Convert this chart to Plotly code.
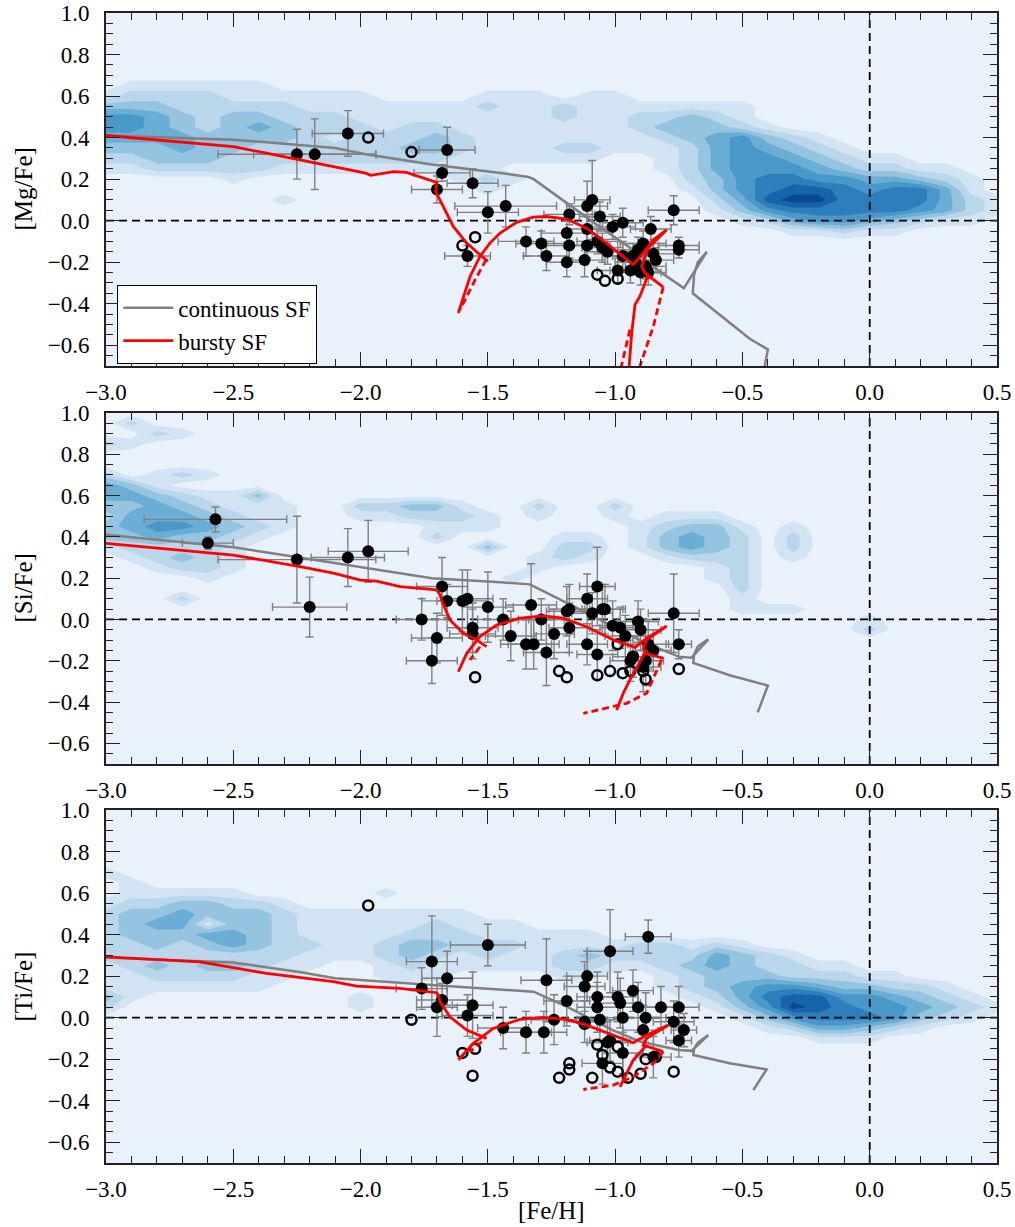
import plotly.graph_objects as go

# ---------------- grid of the background density (levels 0-8) -------------
FEH_GRID = [-3.0, -2.9, -2.8, -2.7, -2.6, -2.5, -2.4, -2.3, -2.2, -2.1, -2.0, -1.9,
            -1.8, -1.7, -1.6, -1.5, -1.4, -1.3, -1.2, -1.1, -1.0, -0.9, -0.8, -0.7,
            -0.6, -0.5, -0.4, -0.3, -0.2, -0.1, 0.0, 0.1, 0.2, 0.3, 0.4, 0.5]

MG_DENS_Y = [0.70, 0.65, 0.60, 0.55, 0.50, 0.45, 0.40, 0.35, 0.30, 0.25, 0.20, 0.15,
             0.10, 0.05, 0.00, -0.05, -0.10]
MG_DENS = [
    "00000 00000 00000 00000 00000 00000 00000 0",
    "01111 11000 00000 00000 00000 00000 00000 0",
    "12222 11111 10000 11101 10000 00000 00000 0",
    "33322 22211 11111 21121 11111 10000 00000 0",
    "55432 33222 11111 11121 12232 10000 00000 0",
    "55432 34322 21221 11111 12333 21000 00000 0",
    "44443 33321 22232 11111 11234 53210 00000 0",
    "33343 32222 22332 11122 11124 54321 00000 0",
    "22333 22222 22221 11111 00124 55432 11000 0",
    "11222 22111 11111 10000 00124 55543 22110 0",
    "00000 10000 00001 21000 00023 56655 44321 0",
    "00000 00000 00000 10000 00013 56776 56641 0",
    "00000 00100 00000 00000 00002 47886 66642 1",
    "00000 00000 00000 00000 00001 35666 66542 1",
    "00000 00000 00000 00000 00000 12455 43211 0",
    "00000 00000 00000 00000 00000 00112 11000 0",
    "00000 00000 00000 00000 00000 00000 00000 0",
]

SI_DENS_Y = [1.00, 0.95, 0.90, 0.85, 0.80, 0.75, 0.70, 0.65, 0.60, 0.55, 0.50, 0.45,
             0.40, 0.35, 0.30, 0.25, 0.20, 0.15, 0.10, 0.05, 0.00, -0.05, -0.10]
SI_DENS = [
    "00000 00000 00000 00000 00000 00000 00000 0",
    "02000 00000 00000 00000 00000 00000 00000 0",
    "00210 00000 00000 00000 00000 00000 00000 0",
    "21000 00000 00000 00000 00000 00000 00000 0",
    "00000 00000 00000 00000 00000 00000 00000 0",
    "00000 00000 00000 00000 00000 00000 00000 0",
    "20121 00000 00000 00000 00000 00000 00000 0",
    "43100 00000 00000 00000 00000 00000 00000 0",
    "44321 13000 00000 00000 00000 00000 00000 0",
    "33432 11100 22331 00200 20000 00000 00000 0",
    "24443 21100 11222 10100 10111 00000 00000 0",
    "34554 32100 00011 10000 01233 10100 00000 0",
    "33433 21000 00020 00011 01343 20200 00000 0",
    "12222 10000 00000 30022 01343 20200 00000 0",
    "01232 10000 00000 00121 00122 20100 00000 0",
    "00122 10000 00000 00100 00001 20000 00000 0",
    "00001 00000 00000 01000 00001 20000 00000 0",
    "00000 00000 00000 00000 00000 20000 00000 0",
    "00020 00000 00000 00000 00000 10000 00000 0",
    "00000 00000 00000 00000 00000 11100 00000 0",
    "00000 00000 00000 00000 00000 00000 10000 0",
    "00000 00000 00000 00000 00000 00000 20000 0",
    "00000 00000 00000 00000 00000 00000 00000 0",
]

TI_DENS_Y = [0.75, 0.70, 0.65, 0.60, 0.55, 0.50, 0.45, 0.40, 0.35, 0.30, 0.25, 0.20,
             0.15, 0.10, 0.05, 0.00, -0.05, -0.10, -0.15]
TI_DENS = [
    "00000 00000 00000 00000 00000 00000 00000 0",
    "10000 00000 00000 00000 00000 00000 00000 0",
    "01000 00000 00000 00000 00000 00000 00000 0",
    "01111 10000 01000 00000 00000 00000 00000 0",
    "12233 22100 00000 00000 00000 00000 00000 0",
    "23343 33211 11111 00000 00000 00000 00000 0",
    "23441 33211 11121 11000 00000 00000 00000 0",
    "23334 43211 11222 11111 00000 00000 00000 0",
    "22323 43221 12332 22111 12212 10000 00000 0",
    "22222 22211 12321 21123 22224 32100 00000 0",
    "12323 32110 01211 11122 11234 32211 00000 0",
    "11222 21100 01110 00011 00123 33222 11000 0",
    "11111 11000 00000 00000 00123 45543 32210 0",
    "31000 00000 10000 00000 00012 46775 54321 0",
    "20000 00000 10000 00000 00001 35876 55432 1",
    "00000 00000 00000 00000 00000 13566 65321 0",
    "00000 00000 00000 00000 00000 01244 32100 0",
    "00000 00000 00000 00000 00000 00011 10000 0",
    "00000 00000 00000 00000 00000 00000 00000 0",
]

DENS_COLORS = ["#e9f1fa", "#d2e3f3", "#b9d6eb", "#94c4df", "#6aaed6",
               "#4a98c9", "#2e7ebc", "#1764ab", "#0a4a90"]

# ---------------- continuous SF model (grey) ----------------
MG_CONT_X = [-3.0, -2.5, -2.1, -1.98, -1.72, -1.45, -1.34, -1.32, -1.06, -0.93, -0.82,
             -0.73, -0.64, -0.675, -0.69, -0.695, -0.47, -0.40, -0.42]
MG_CONT_Y = [0.41, 0.39, 0.35, 0.32, 0.27, 0.23, 0.21, 0.20, -0.03, -0.14, -0.25,
             -0.325, -0.15, -0.20, -0.26, -0.35, -0.57, -0.62, -0.75]
SI_CONT_X = [-3.0, -2.5, -2.24, -1.98, -1.72, -1.45, -1.37, -1.335, -1.19, -1.01, -0.88,
             -0.75, -0.70, -0.634, -0.675, -0.69, -0.693, -0.55, -0.40, -0.44]
SI_CONT_Y = [0.41, 0.35, 0.30, 0.25, 0.20, 0.18, 0.175, 0.17, 0.08, -0.035, -0.115,
             -0.18, -0.185, -0.096, -0.13, -0.17, -0.21, -0.27, -0.32, -0.45]
TI_CONT_X = [-3.0, -2.5, -2.24, -2.1, -1.72, -1.45, -1.32, -1.19, -1.01, -0.90, -0.75,
             -0.70, -0.634, -0.675, -0.69, -0.693, -0.55, -0.405, -0.457]
TI_CONT_Y = [0.29, 0.265, 0.22, 0.19, 0.157, 0.133, 0.125, 0.053, -0.06, -0.116, -0.156,
             -0.16, -0.084, -0.12, -0.15, -0.18, -0.22, -0.249, -0.349]

# ---------------- bursty SF model (red): solid and dashed pieces ----------------
MG_BURST_SOLID = [
    ([-3.0, -2.5, -2.37, -2.24, -2.11, -1.98, -1.96, -1.90, -1.87, -1.82, -1.77, -1.70,
      -1.705, -1.69, -1.675, -1.636, -1.583, -1.531, -1.50],
     [0.41, 0.357, 0.325, 0.293, 0.261, 0.229, 0.218, 0.232, 0.236, 0.232, 0.213, 0.184,
      0.14, 0.10, 0.068, -0.028, -0.108, -0.164, -0.196]),
    ([-1.616, -1.596, -1.570, -1.531, -1.492, -1.452, -1.387, -1.322, -1.269, -1.191, -1.112,
      -1.034, -0.981, -0.929, -0.890, -0.850, -0.798],
     [-0.445, -0.365, -0.269, -0.172, -0.108, -0.060, -0.008, 0.017, 0.020, 0.008, -0.036,
      -0.108, -0.159, -0.212, -0.156, -0.092, -0.044]),
    ([-0.798, -0.870, -0.896, -0.883, -0.811], [-0.044, -0.132, -0.220, -0.252, -0.320]),
    ([-0.870, -0.903, -0.922, -0.935, -0.948], [-0.260, -0.365, -0.405, -0.542, -0.75]),
]
MG_BURST_DASH = [
    ([-1.507, -1.55, -1.609], [-0.188, -0.285, -0.429]),
    ([-0.811, -0.850, -0.903], [-0.320, -0.509, -0.702]),
    ([-0.942, -0.985], [-0.525, -0.75]),
]
SI_BURST_SOLID = [
    ([-3.0, -2.5, -2.238, -2.107, -2.0, -1.937, -1.845, -1.701, -1.688, -1.682, -1.649,
      -1.596, -1.544, -1.505],
     [0.369, 0.312, 0.256, 0.224, 0.191, 0.186, 0.159, 0.143, 0.12, 0.094, -0.002,
      -0.067, -0.099, -0.132]),
    ([-1.616, -1.583, -1.531, -1.466, -1.374, -1.282, -1.204, -1.112, -1.007, -0.922,
      -0.876, -0.798],
     [-0.253, -0.164, -0.083, -0.027, 0.006, 0.017, 0.006, -0.035, -0.099, -0.135,
      -0.091, -0.032]),
    ([-0.798, -0.876, -0.889, -0.876, -0.811], [-0.032, -0.099, -0.140, -0.164, -0.188]),
    ([-0.876, -0.929, -0.968, -0.994], [-0.148, -0.261, -0.357, -0.438]),
]
SI_BURST_DASH = [
    ([-1.531, -1.570], [-0.132, -0.196]),
    ([-0.818, -0.853, -0.876, -0.955, -1.125], [-0.196, -0.290, -0.357, -0.406, -0.455]),
]
TI_BURST_SOLID = [
    ([-3.0, -2.631, -2.369, -2.107, -2.015, -1.845, -1.701, -1.695, -1.688, -1.649,
      -1.583, -1.505],
     [0.293, 0.269, 0.213, 0.173, 0.152, 0.141, 0.120, 0.11, 0.077, 0.004, -0.060, -0.100]),
    ([-1.616, -1.557, -1.479, -1.374, -1.282, -1.191, -1.112, -1.007, -0.929, -0.876, -0.791],
     [-0.204, -0.124, -0.052, -0.008, 0.001, -0.008, -0.036, -0.084, -0.121, -0.084, -0.036]),
    ([-0.791, -0.876, -0.889, -0.811], [-0.036, -0.100, -0.132, -0.164]),
    ([-0.876, -0.929, -0.981], [-0.132, -0.204, -0.333]),
]
TI_BURST_DASH = [
    ([-1.524, -1.570], [-0.116, -0.164]),
    ([-0.811, -0.850, -0.929, -1.007, -1.125], [-0.164, -0.220, -0.285, -0.325, -0.346]),
]

# ---------------- observed stars ----------------
MG_FEH = [-2.25, -2.18, -2.05, -1.66, -1.68, -1.70, -1.56, -1.50, -1.58, -1.43, -1.35, -1.29,
          -1.27, -1.19, -1.18, -1.19, -1.18, -1.12, -1.11, -1.11, -1.11, -1.09, -1.06, -1.07,
          -1.05, -1.03, -1.01, -0.97, -0.99, -0.97, -0.94, -0.93, -0.90, -0.89, -0.86, -0.85,
          -0.84, -0.88, -0.77, -0.75, -0.75, -0.92, -0.87, -0.91]
MG_VAL = [0.32, 0.32, 0.42, 0.34, 0.23, 0.15, 0.18, 0.04, -0.17, 0.07, -0.10, -0.11,
          -0.17, -0.20, 0.03, -0.06, -0.12, -0.19, -0.12, -0.04, 0.07, 0.10, 0.02, -0.10,
          -0.13, -0.15, -0.03, -0.01, -0.24, -0.17, -0.24, -0.17, -0.25, -0.11, -0.04, -0.16,
          -0.19, -0.22, 0.05, -0.12, -0.14, -0.20, -0.25, -0.14]
MG_XERR = [0.31, 0.24, 0.14, 0.11, 0.11, 0.10, 0.10, 0.12, 0.09, 0.20, 0.11, 0.10,
           0.09, 0.08, 0.10, 0.10, 0.09, 0.08, 0.09, 0.08, 0.08, 0.07, 0.08, 0.08,
           0.08, 0.09, 0.09, 0.08, 0.08, 0.08, 0.08, 0.08, 0.08, 0.09, 0.08, 0.08,
           0.07, 0.08, 0.10, 0.08, 0.08, 0.08, 0.07, 0.08]
MG_YERR = [0.12, 0.17, 0.11, 0.11, 0.04, 0.065, 0.07, 0.10, 0.05, 0.10, 0.07, 0.06,
           0.07, 0.07, 0.05, 0.06, 0.06, 0.08, 0.06, 0.06, 0.12, 0.19, 0.07, 0.06,
           0.07, 0.06, 0.06, 0.07, 0.06, 0.07, 0.06, 0.06, 0.06, 0.06, 0.06, 0.07,
           0.06, 0.06, 0.07, 0.04, 0.04, 0.06, 0.06, 0.06]
MG_OPEN_FEH = [-1.97, -1.80, -1.60, -1.55, -1.07, -1.04, -0.99]
MG_OPEN_VAL = [0.40, 0.33, -0.12, -0.08, -0.26, -0.29, -0.28]

SI_FEH = [-2.57, -2.60, -2.25, -2.20, -2.05, -1.97, -1.68, -1.66, -1.76, -1.70, -1.72, -1.60,
          -1.58, -1.56, -1.56, -1.50, -1.44, -1.41, -1.33, -1.35, -1.32, -1.29, -1.27, -1.24,
          -1.19, -1.18, -1.18, -1.11, -1.07, -1.09, -1.11, -1.07, -1.05, -1.04, -1.01, -0.98,
          -0.96, -0.91, -0.90, -0.87, -0.85, -0.88, -0.93, -0.94, -0.89, -0.77, -0.75]
SI_VAL = [0.485, 0.37, 0.29, 0.06, 0.30, 0.33, 0.16, 0.09, 0.00, -0.09, -0.20, 0.09,
          0.10, -0.04, -0.07, 0.06, 0.00, -0.08, 0.07, -0.12, -0.12, 0.00, -0.16, -0.07,
          0.04, 0.05, -0.04, 0.10, 0.16, 0.03, -0.12, -0.17, 0.05, 0.05, -0.03, -0.04,
          -0.08, -0.01, -0.05, -0.12, -0.15, -0.20, -0.18, -0.20, -0.23, 0.03, -0.12]
SI_XERR = [0.28, 0.10, 0.31, 0.146, 0.144, 0.157, 0.10, 0.10, 0.10, 0.10, 0.10, 0.10,
           0.10, 0.10, 0.09, 0.10, 0.10, 0.10, 0.10, 0.10, 0.10, 0.09, 0.09, 0.08,
           0.08, 0.08, 0.08, 0.08, 0.07, 0.08, 0.08, 0.08, 0.08, 0.08, 0.08, 0.08,
           0.08, 0.08, 0.08, 0.08, 0.07, 0.07, 0.08, 0.08, 0.07, 0.10, 0.05]
SI_YERR = [0.06, 0.03, 0.21, 0.145, 0.14, 0.15, 0.14, 0.08, 0.10, 0.12, 0.11, 0.15,
           0.14, 0.12, 0.12, 0.17, 0.10, 0.12, 0.20, 0.12, 0.12, 0.10, 0.16, 0.12,
           0.12, 0.12, 0.12, 0.12, 0.19, 0.10, 0.10, 0.12, 0.12, 0.12, 0.12, 0.10,
           0.10, 0.10, 0.10, 0.12, 0.10, 0.12, 0.10, 0.10, 0.12, 0.19, 0.07]
SI_OPEN_FEH = [-1.55, -1.22, -1.19, -1.07, -1.02, -0.97, -0.94, -0.89, -0.88, -0.99, -0.93, -0.75]
SI_OPEN_VAL = [-0.28, -0.25, -0.28, -0.27, -0.25, -0.26, -0.25, -0.25, -0.29, -0.12, -0.18, -0.24]

TI_FEH = [-1.72, -1.76, -1.66, -1.68, -1.70, -1.58, -1.56, -1.50, -1.44, -1.35, -1.28, -1.27,
          -1.24, -1.19, -1.12, -1.11, -1.07, -1.07, -1.02, -0.99, -0.98, -0.97, -0.93, -0.91,
          -0.88, -0.89, -0.87, -0.82, -0.77, -0.75, -0.73, -0.75, -0.85, -0.97, -1.03, -1.02,
          -1.05, -1.06, -1.12]
TI_VAL = [0.27, 0.14, 0.19, 0.085, 0.05, 0.01, 0.06, 0.35, -0.05, -0.07, -0.07, 0.18,
          -0.01, 0.08, 0.15, 0.20, 0.10, 0.05, 0.32, 0.10, 0.07, 0.00, 0.13, 0.05,
          0.00, -0.06, 0.39, 0.05, -0.02, 0.05, -0.06, -0.11, -0.19, -0.17, -0.12, -0.11,
          -0.22, -0.01, -0.02]
TI_XERR = [0.10, 0.10, 0.10, 0.10, 0.08, 0.10, 0.08, 0.147, 0.10, 0.10, 0.09, 0.10,
           0.09, 0.09, 0.08, 0.08, 0.08, 0.08, 0.09, 0.08, 0.08, 0.08, 0.08, 0.08,
           0.08, 0.08, 0.09, 0.08, 0.08, 0.08, 0.05, 0.05, 0.07, 0.08, 0.08, 0.08,
           0.08, 0.08, 0.08]
TI_YERR = [0.22, 0.10, 0.13, 0.08, 0.14, 0.10, 0.16, 0.10, 0.10, 0.10, 0.10, 0.20,
           0.12, 0.12, 0.12, 0.12, 0.12, 0.12, 0.20, 0.12, 0.12, 0.10, 0.10, 0.12,
           0.12, 0.12, 0.08, 0.10, 0.10, 0.10, 0.08, 0.08, 0.10, 0.10, 0.10, 0.10,
           0.10, 0.10, 0.10]
TI_OPEN_FEH = [-1.97, -1.80, -1.60, -1.55, -1.56, -1.22, -1.18, -1.18, -1.09, -1.07, -1.05,
               -1.02, -0.99, -0.99, -0.95, -0.90, -0.88, -0.84, -0.77, -1.12]
TI_OPEN_VAL = [0.54, -0.01, -0.17, -0.15, -0.28, -0.29, -0.25, -0.22, -0.29, -0.13, -0.18,
               -0.24, -0.14, -0.26, -0.29, -0.27, -0.20, -0.19, -0.26, -0.03]

Y_TITLES = ["[Mg/Fe]", "[Si/Fe]", "[Ti/Fe]"]
X_TITLE = "[Fe/H]"
LEGEND_NAMES = ["continuous SF", "bursty SF"]

# ---------------- figure ----------------
FONT = "Liberation Serif"
GREY = "#808080"
RED = "#ff0000"

fig = go.Figure()

panels = [
    (MG_DENS_Y, MG_DENS, MG_CONT_X, MG_CONT_Y, MG_BURST_SOLID, MG_BURST_DASH,
     MG_FEH, MG_VAL, MG_XERR, MG_YERR, MG_OPEN_FEH, MG_OPEN_VAL),
    (SI_DENS_Y, SI_DENS, SI_CONT_X, SI_CONT_Y, SI_BURST_SOLID, SI_BURST_DASH,
     SI_FEH, SI_VAL, SI_XERR, SI_YERR, SI_OPEN_FEH, SI_OPEN_VAL),
    (TI_DENS_Y, TI_DENS, TI_CONT_X, TI_CONT_Y, TI_BURST_SOLID, TI_BURST_DASH,
     TI_FEH, TI_VAL, TI_XERR, TI_YERR, TI_OPEN_FEH, TI_OPEN_VAL),
]

colorscale = [[k / 8.0, c] for k, c in enumerate(DENS_COLORS)]

for i, (dy, drows, cx, cy, bsol, bdash, fx, fy, fxe, fye, ox, oy) in enumerate(panels):
    xa = "x" if i == 0 else "x%d" % (i + 1)
    ya = "y" if i == 0 else "y%d" % (i + 1)
    z = [[int(ch) for ch in r.replace(" ", "")] for r in drows]
    fig.add_trace(go.Contour(
        x=FEH_GRID, y=dy[::-1], z=z[::-1], xaxis=xa, yaxis=ya,
        contours=dict(start=0.5, end=7.5, size=1, coloring="fill", showlines=False),
        colorscale=colorscale, showscale=False, line=dict(width=0, smoothing=0),
        hoverinfo="skip", showlegend=False))
    # reference dashed lines
    fig.add_trace(go.Scatter(x=[-3.0, 0.5], y=[0, 0], mode="lines", xaxis=xa, yaxis=ya,
                             line=dict(color="black", width=1.8, dash="8px,5px"),
                             showlegend=False, hoverinfo="skip"))
    fig.add_trace(go.Scatter(x=[0, 0], y=[-0.7, 1.0], mode="lines", xaxis=xa, yaxis=ya,
                             line=dict(color="black", width=1.8, dash="8px,5px"),
                             showlegend=False, hoverinfo="skip"))
    # continuous SF
    fig.add_trace(go.Scatter(x=cx, y=cy, mode="lines", xaxis=xa, yaxis=ya,
                             line=dict(color=GREY, width=2.5),
                             name=LEGEND_NAMES[0], showlegend=(i == 0), legendrank=1))
    # stars with errors
    fig.add_trace(go.Scatter(
        x=fx, y=fy, mode="markers", xaxis=xa, yaxis=ya,
        marker=dict(color="black", size=12, line=dict(width=0)),
        error_x=dict(type="data", array=fxe, color=GREY, thickness=1.4, width=4),
        error_y=dict(type="data", array=fye, color=GREY, thickness=1.4, width=4),
        showlegend=False, hoverinfo="skip"))
    fig.add_trace(go.Scatter(
        x=ox, y=oy, mode="markers", xaxis=xa, yaxis=ya,
        marker=dict(symbol="circle-open", color="black", size=10, line=dict(width=2.5)),
        showlegend=False, hoverinfo="skip"))
    # bursty SF
    for j, (bx, by) in enumerate(bsol):
        fig.add_trace(go.Scatter(x=bx, y=by, mode="lines", xaxis=xa, yaxis=ya,
                                 line=dict(color=RED, width=2.8),
                                 name=LEGEND_NAMES[1], showlegend=(i == 0 and j == 0),
                                 legendrank=2, hoverinfo="skip"))
    for bx, by in bdash:
        fig.add_trace(go.Scatter(x=bx, y=by, mode="lines", xaxis=xa, yaxis=ya,
                                 line=dict(color=RED, width=2.8, dash="7px,4px"),
                                 showlegend=False, hoverinfo="skip"))

# plot area: px x 106..997 ; panels y 13-366, 413-764, 810-1163
H, W = 1227, 1015
ml, mr, mt, mb = 106, 18, 13, 64
ph = H - mt - mb
def dom(top, bottom):
    return [(H - mb - bottom) / ph, (H - mb - top) / ph]

domains = [dom(13, 366), dom(413, 764), dom(810, 1163)]

tickfont = dict(family=FONT, size=23, color="black")
layout_axes = {}
for i in range(3):
    xk = "xaxis" if i == 0 else "xaxis%d" % (i + 1)
    yk = "yaxis" if i == 0 else "yaxis%d" % (i + 1)
    ya = "y" if i == 0 else "y%d" % (i + 1)
    xa = "x" if i == 0 else "x%d" % (i + 1)
    layout_axes[xk] = dict(
        domain=[0, 1], anchor=ya, range=[-3.0, 0.5], tick0=-3.0, dtick=0.5,
        tickformat=".1f", ticks="inside", ticklen=14, tickwidth=1.4, tickcolor="#222",
        minor=dict(ticks="inside", dtick=0.1, ticklen=7, tickwidth=1.2, tickcolor="#222"),
        mirror="ticks", showline=True, linecolor="#222", linewidth=1.6,
        showgrid=False, zeroline=False, tickfont=tickfont, ticklabelstandoff=5)
    layout_axes[yk] = dict(
        domain=domains[i], anchor=xa, range=[-0.7, 1.0], tick0=0.0, dtick=0.2,
        tickformat=".1f", ticks="inside", ticklen=14, tickwidth=1.4, tickcolor="#222",
        minor=dict(ticks="inside", dtick=0.05, ticklen=7, tickwidth=1.2, tickcolor="#222"),
        mirror="ticks", showline=True, linecolor="#222", linewidth=1.6,
        showgrid=False, zeroline=False, tickfont=tickfont, ticklabelstandoff=10)

annotations = []
for i, t in enumerate(Y_TITLES):
    yc = (domains[i][0] + domains[i][1]) / 2
    annotations.append(dict(text=t, x=(23 - ml) / (W - ml - mr), y=yc, xref="paper", yref="paper",
                            textangle=-90, showarrow=False, xanchor="center", yanchor="middle",
                            font=dict(family=FONT, size=25, color="black")))
annotations.append(dict(text=X_TITLE, x=(551 - ml) / (W - ml - mr), y=(H - mb - 1210) / ph,
                        xref="paper", yref="paper", showarrow=False, xanchor="center",
                        yanchor="middle", font=dict(family=FONT, size=25, color="black")))

fig.update_layout(
    width=W, height=H, margin=dict(l=ml, r=mr, t=mt, b=mb, autoexpand=False),
    paper_bgcolor="white", plot_bgcolor=DENS_COLORS[0],
    font=dict(family=FONT, size=22, color="black"),
    showlegend=True,
    legend=dict(x=(117 - ml) / (W - ml - mr), y=(H - mb - 285) / ph, xanchor="left", yanchor="top",
                bgcolor="white", bordercolor="black", borderwidth=1.3,
                font=dict(family=FONT, size=23, color="black"), tracegroupgap=0,
                itemwidth=50),
    hovermode=False,
    annotations=annotations,
    **layout_axes,
)

fig.write_html("out.html")
